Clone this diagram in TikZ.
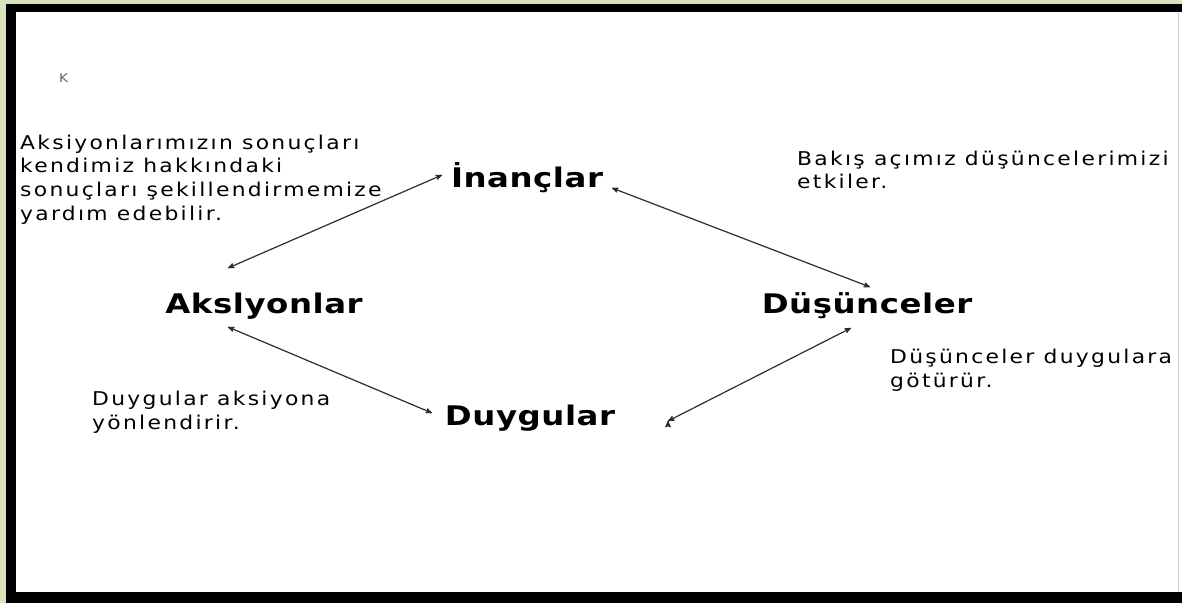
\documentclass[tikz,border=0pt]{standalone}
\usepackage{fontspec}
\usepackage{tikz}
\usetikzlibrary{arrows,positioning}
\newfontfamily\labelfont[FakeStretch=1.2, LetterSpace=2]{DejaVu Sans}
\newfontfamily\notefont[FakeStretch=1.15, LetterSpace=12]{DejaVu Sans}
\definecolor{framegreen}{RGB}{214,227,188}
\definecolor{arrowgray}{RGB}{45,45,45}

\begin{document}
\begin{tikzpicture}[x=1pt, y=-1pt, >=stealth', auto]
\tikzstyle{concept}=[inner sep=0pt, anchor=base, text=black, font=\labelfont\bfseries\fontsize{27}{30}\selectfont]
\tikzstyle{note}=[inner sep=0pt, anchor=base west, text=black, font=\notefont\fontsize{19}{22}\selectfont]
\tikzstyle{link}=[<->, draw=arrowgray, line width=1.2pt]

% frame
\useasboundingbox (0,0) rectangle (1182,603);
\fill[framegreen] (0,0) rectangle (1182,603);
\fill[black] (6,4) rectangle (1182,603);
\fill[white] (16,12) rectangle (1182,592);
\draw[gray!35, line width=1pt] (1178,12) -- (1178,592);

\node[note, font=\notefont\fontsize{12}{13}\selectfont, text=black!60] (k) at (59,82) {K};

\node[concept] (ina) at (527,187) {İnançlar};
\node[concept] (aks) at (264,313) {Akslyonlar};
\node[concept] (dus) at (867,313) {Düşünceler};
\node[concept] (duy) at (530,425) {Duygular};

\node[note] (sonuc1) at (20,149) {Aksiyonlarımızın sonuçları};
\node[note] (sonuc2) at ([yshift=-23.7pt]sonuc1.base west) {kendimiz hakkındaki};
\node[note] (sonuc3) at ([yshift=-23.7pt]sonuc2.base west) {sonuçları şekillendirmemize};
\node[note] (sonuc4) at ([yshift=-23.7pt]sonuc3.base west) {yardım edebilir.};

\node[note] (bakis1) at (797,165) {Bakış açımız düşüncelerimizi};
\node[note] (bakis2) at ([yshift=-23pt]bakis1.base west) {etkiler.};

\node[note] (dusun1) at (890,363) {Düşünceler duygulara};
\node[note] (dusun2) at ([yshift=-24pt]dusun1.base west) {götürür.};

\node[note] (duygu1) at (92,405) {Duygular aksiyona};
\node[note] (duygu2) at ([yshift=-24pt]duygu1.base west) {yönlendirir.};

\path[link]
	([shift={(-36,-45)}]aks.base) 	edge 	([shift={(-85,-12)}]ina.base)
	([shift={(85,1)}]ina.base) 	edge 	([shift={(3,-26)}]dus.base)
	([shift={(-36,14)}]aks.base) 	edge 	([shift={(-98,-12)}]duy.base)
	([shift={(138,-4)}]duy.base) 	edge 	([shift={(-16,15)}]dus.base)
;

\end{tikzpicture}
\end{document}
